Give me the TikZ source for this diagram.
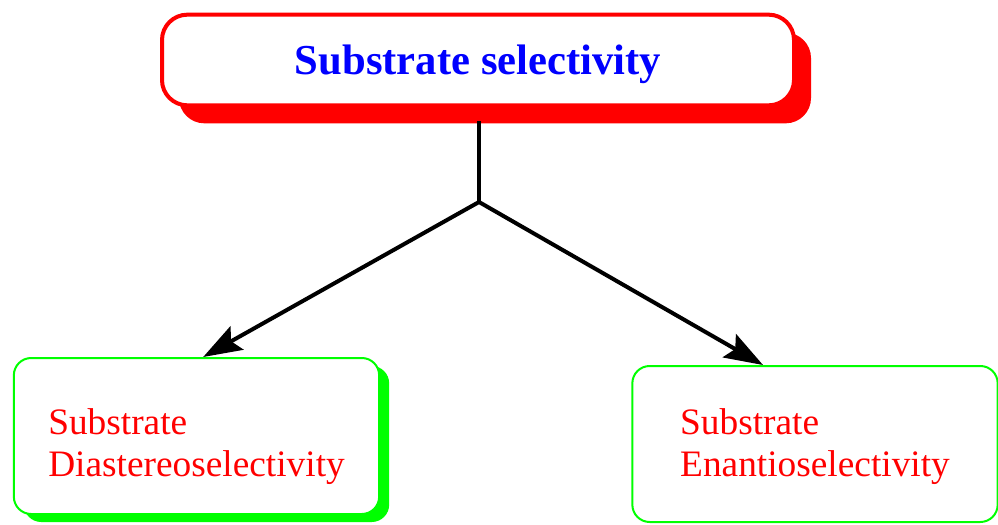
\documentclass[tikz,border=0pt]{standalone}
\usepackage{fontspec}
\setmainfont{Liberation Serif}
\usetikzlibrary{arrows.meta}
\usetikzlibrary{shadows}
\usetikzlibrary{positioning}

\tikzset{
  titlebox/.style={draw=red, line width=3pt, fill=white, rounded corners=19pt,
    minimum width=474pt, minimum height=68pt, text=blue,
    font=\fontsize{32}{38}\selectfont\bfseries,
    drop shadow={shadow xshift=12.75pt, shadow yshift=-13.5pt, fill=red, opacity=1}},
  kindbox/.style={draw=green, line width=1.5pt, fill=white, rounded corners=13pt,
    minimum width=274pt, minimum height=117pt, text=red, align=left,
    font=\fontsize{28}{31.5}\selectfont},
  kindshadow/.style={drop shadow={shadow xshift=7.5pt, shadow yshift=-6pt, fill=green, opacity=1}},
  stem/.style={line width=3pt},
  link/.style={line width=3pt, -{Stealth[length=29pt, width=20pt, inset=5pt]}}
}

\begin{document}
\begin{tikzpicture}[x=0.75pt, y=-0.75pt]
  \useasboundingbox (0,0) rectangle (998,524);

  \node [titlebox] (title) at (478,60) {\rule{0pt}{29pt}Substrate selectivity};
  \node [kindbox, kindshadow] (diastereo) at (196.5,436) {\rule{0pt}{35pt}Substrate\\Diastereoselectivity};
  \node [kindbox] (enantio) at (815,444) {\rule{0pt}{23pt}Substrate\\Enantioselectivity};

  \coordinate (split) at (479,202);
  \draw [stem, shorten <=10.5pt] (title.south -| split) -- (split);

  \draw [link] (split) -- ([xshift=5pt]diastereo.north);
  \draw [link] (split) -- ([xshift=-39pt]enantio.north);
\end{tikzpicture}
\end{document}
